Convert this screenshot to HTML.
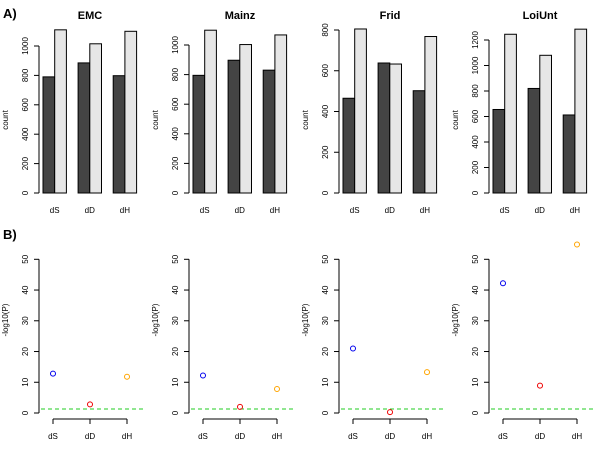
<!DOCTYPE html>
<html><head><meta charset="utf-8"><style>
body{margin:0;background:#fff}
svg text{font-family:"Liberation Sans",sans-serif}
</style></head><body>
<svg id="c" width="600" height="450" viewBox="0 0 600 450" xmlns="http://www.w3.org/2000/svg">
<text x="3" y="18" font-size="13" font-weight="bold">A)</text>
<text x="3" y="239" font-size="13" font-weight="bold">B)</text>
</svg>
<script>
const datasets = ["EMC", "Mainz", "Frid", "LoiUnt"];
const categories = ["dS", "dD", "dH"];
const darkCounts = [[790, 885, 798], [795, 897, 830], [465, 638, 502], [655, 820, 612]];
const lightCounts = [[1110, 1015, 1100], [1100, 1003, 1068], [805, 633, 768], [1245, 1080, 1285]];
const countTicks = [[0,200,400,600,800,1000],[0,200,400,600,800,1000],[0,200,400,600,800],[0,200,400,600,800,1000,1200]];
const countTickMax = [1000, 1000, 800, 1200];
const pvals = [[12.8, 2.8, 11.8], [12.2, 2.0, 7.8], [21.0, 0.3, 13.3], [42.2, 8.9, 54.8]];
const pTicks = [0, 10, 20, 30, 40, 50];
const threshold = 1.3;
const pointColors = ["#0000ee", "#ee0000", "#ffa500"];

const svg = document.getElementById('c');
const NS = "http://www.w3.org/2000/svg";
function mk(tag, attrs, parent){const e=document.createElementNS(NS,tag);for(const k in attrs)e.setAttribute(k,attrs[k]);(parent||svg).appendChild(e);return e;}

const topPx = [46, 45, 30, 40];
datasets.forEach((name, p) => {
  const ox = 150 * p;
  const g = mk('g', {});
  
  
  const y0 = 193;
  const yScale = v => y0 - v * (y0 - topPx[p]) / countTickMax[p];
  const axX = 39 + ox;
  const u = 11.7;
  const t = mk('text', {x: 90 + ox, y: 19, 'font-size': 11, 'font-weight': 'bold', 'text-anchor': 'middle'}, g);
  t.textContent = name;
  
  
  const ticks = countTicks[p];
  const ax = mk('line', {x1: axX, x2: axX, y1: yScale(ticks[0]), y2: yScale(ticks[ticks.length-1]), stroke: '#000', 'stroke-width': 1}, g);
  
  
  ticks.forEach(v => {
    mk('line', {x1: axX-5, x2: axX, y1: yScale(v), y2: yScale(v), stroke: '#000'}, g);
    const tl = mk('text', {x: 0, y: 0, 'font-size': 8, 'text-anchor': 'middle', transform: `translate(${axX-11},${yScale(v)}) rotate(-90)`}, g);
    tl.textContent = v;
    
    
  });
  const yl = mk('text', {x: 0, y: 0, 'font-size': 8, 'text-anchor': 'middle', transform: `translate(${8+ox},120) rotate(-90)`}, g);
  yl.textContent = 'count';
  
  
  categories.forEach((c, i) => {
    const gx = 43 + ox + i * 3 * u;
    const b1 = mk('rect', {x: gx, y: yScale(darkCounts[p][i]), width: u, height: y0 - yScale(darkCounts[p][i]), fill: '#444', stroke: '#000', 'stroke-width': 1}, g);
    
    
    const b2 = mk('rect', {x: gx + u, y: yScale(lightCounts[p][i]), width: u, height: y0 - yScale(lightCounts[p][i]), fill: '#e6e6e6', stroke: '#000', 'stroke-width': 1}, g);
    
    
    const xl = mk('text', {x: gx + u, y: 213, 'font-size': 8, 'text-anchor': 'middle'}, g);
    xl.textContent = c;
    
    
  });

  // panel B
  const h = mk('g', {});
  
  
  const py = v => 413 - v * (413 - 259.3) / 50;
  const px = i => 53 + ox + i * 37;
  const pax = mk('line', {x1: axX, x2: axX, y1: py(0), y2: py(50), stroke: '#000'}, h);
  
  
  pTicks.forEach(v => {
    mk('line', {x1: axX-5, x2: axX, y1: py(v), y2: py(v), stroke: '#000'}, h);
    const tl = mk('text', {x: 0, y: 0, 'font-size': 8, 'text-anchor': 'middle', transform: `translate(${axX-11},${py(v)}) rotate(-90)`}, h);
    tl.textContent = v;
    
    
  });
  const pyl = mk('text', {x: 0, y: 0, 'font-size': 8, 'text-anchor': 'middle', transform: `translate(${8+ox},320) rotate(-90)`}, h);
  pyl.textContent = '-log10(P)';
  
  
  const xa = mk('line', {x1: px(0), x2: px(2), y1: 419, y2: 419, stroke: '#000'}, h);
  
  
  const th = mk('line', {x1: axX + 2, x2: axX + 105, y1: py(threshold), y2: py(threshold), stroke: '#22cc22', 'stroke-dasharray': '4,3'}, h);
  
  
  categories.forEach((c, i) => {
    mk('line', {x1: px(i), x2: px(i), y1: 419, y2: 424, stroke: '#000'}, h);
    const xl = mk('text', {x: px(i), y: 439, 'font-size': 8, 'text-anchor': 'middle'}, h);
    xl.textContent = c;
    
    
    const pt = mk('circle', {cx: px(i), cy: py(pvals[p][i]), r: 2.5, fill: 'none', stroke: pointColors[i], 'stroke-width': 1}, h);
    
    
  });
});
</script>
</body></html>
